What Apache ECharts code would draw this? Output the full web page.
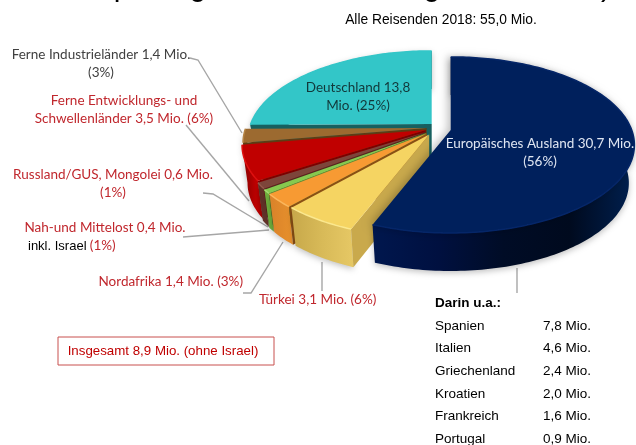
<!DOCTYPE html>
<html>
<head>
<meta charset="utf-8">
<title>Reisen</title>
<script src="https://cdn.jsdelivr.net/npm/echarts@6/dist/echarts.min.js"></script>
<style>
  html, body { margin: 0; padding: 0; background: #fff; }
  #chart { width: 636px; height: 445px; }
</style>
</head>
<body>
<div id="chart"></div>
<script>
// data, clockwise from 12 o'clock
const regions = ['Europäisches Ausland', 'Türkei', 'Nordafrika', 'Nah-und Mittelost', 'Russland/GUS, Mongolei', 'Ferne Entwicklungs- und Schwellenländer', 'Ferne Industrieländer', 'Deutschland'];
const millions = [30.7, 3.1, 1.4, 0.4, 0.6, 3.5, 1.4, 13.8];
const subtitle = 'Alle Reisenden 2018: 55,0 Mio.';
const totalNote = 'Insgesamt 8,9 Mio. (ohne Israel)';
const darinHeading = 'Darin u.a.:';
const darinCountries = ['Spanien', 'Italien', 'Griechenland', 'Kroatien', 'Frankreich', 'Portugal'];
const darinValues = ['7,8 Mio.', '4,6 Mio.', '2,4 Mio.', '2,0 Mio.', '1,6 Mio.', '0,9 Mio.'];

// slice styling, same order as regions
const topColors = ['#00205c', '#f5d462', '#f79a33', '#86c94f', '#7d453a', '#c00000', '#9c6a30', '#33c6c8'];
const rimColors = ['#052668', '#fbe88e', '#fbb65c', '#a4dc72', '#95594c', '#e01010', '#b58344', '#33c6c8'];
const faceColors = ['#00205c', '#c9a94c', '#8a4f14', '#5d8f33', '#4e2a22', '#7d0000', '#5e3c14', '#17605f'];
const wallStops = [
    ['#00174e', '#001040', '#000c26', '#000a1e', '#002050'],
    ['#e6c865', '#d8ba58', '#c7a84a'],
    ['#e8912c', '#d9822a'],
    ['#6fae3c', '#6fae3c'],
    ['#6a362c', '#5c2e25'],
    ['#b40000', '#c00000', '#a00000', '#8a0000'],
    ['#7a4f20', '#7a4f20'],
    ['#17605f', '#17605f']
];
const offsets = [[19, -3], [-2.5, 1.5], [-5, 0.5], [-5.5, 0], [-6, -1], [-6, -3], [-5, -5], [0, -9]];

// pie projection
const pie = { cx: 431.7, cy: 133, r: 181, a: 85.5, persp: 0.17, depth: 38, bottomScale: 0.97 };

const total = millions.reduce((s, v) => s + v, 0);
const startAngles = millions.map((v, i) => millions.slice(0, i).reduce((s, x) => s + x, 0) / total * Math.PI * 2);

function project(theta, index, bottom) {
    const v = -Math.cos(theta);
    const w = 1 - pie.persp * v;
    const k = bottom ? pie.bottomScale : 1;
    return [
        pie.cx + offsets[index][0] + k * pie.r * Math.sin(theta) / w,
        pie.cy + offsets[index][1] + pie.a * v / w + (bottom ? pie.depth : 0)
    ];
}

function rim(from, to, index, bottom) {
    const steps = Math.max(2, Math.ceil((to - from) / 0.02));
    const pts = [];
    for (let i = 0; i <= steps; i++) {
        pts.push(project(from + (to - from) * i / steps, index, bottom));
    }
    return pts;
}

function apex(index, bottom) {
    const k = bottom ? pie.depth : 0;
    return [pie.cx + offsets[index][0], pie.cy + offsets[index][1] + k];
}

function renderSlice(params, api) {
    const index = api.value(1);
    const from = startAngles[index];
    const to = from + api.value(0) / total * Math.PI * 2;
    const topRim = rim(from, to, index, false);
    const bottomRim = rim(from, to, index, true);
    const stops = wallStops[index].map((c, i, arr) => ({ offset: i / (arr.length - 1), color: c }));
    return {
        type: 'group',
        children: [
            {
                type: 'polygon',
                shape: { points: topRim.concat(bottomRim.slice().reverse()) },
                style: {
                    fill: new echarts.graphic.LinearGradient(index === 0 ? 0 : 1, 0, index === 0 ? 1 : 0, 0, stops),
                    shadowBlur: 6,
                    shadowColor: 'rgba(0,0,0,0.25)',
                    shadowOffsetY: 2
                }
            },
            {
                type: 'polygon',
                shape: { points: [apex(index, false), topRim[0], bottomRim[0], apex(index, true)] },
                style: { fill: faceColors[index] }
            },
            {
                type: 'polygon',
                shape: { points: [apex(index, false)].concat(topRim) },
                style: {
                    fill: topColors[index],
                    shadowBlur: index === 0 ? 8 : 0,
                    shadowOffsetX: index === 0 ? -3 : 0,
                    shadowColor: 'rgba(0,0,0,0.25)'
                }
            },
            {
                type: 'polyline',
                shape: { points: topRim },
                style: { fill: 'none', stroke: rimColors[index], lineWidth: 1.5 }
            }
        ]
    };
}

// back slices first, navy on top
const sliceData = millions.map((v, i) => [v, i]).reverse();

const LABEL_FONT = 'Lato';
const ARIAL = '"Liberation Sans"';
const RED = '#c0272d';

function label(text, x, y, color, align, font, size, weight) {
    return {
        type: 'text',
        x: x,
        y: y,
        silent: true,
        style: {
            text: text,
            fill: color,
            font: (weight ? weight + ' ' : '') + (size || 13.5) + 'px ' + (font || LABEL_FONT),
            align: align || 'center',
            verticalAlign: 'middle',
            lineHeight: 18
        }
    };
}

function leader(points) {
    return {
        type: 'polyline',
        shape: { points: points },
        silent: true,
        style: { fill: 'none', stroke: '#a6a6a6', lineWidth: 1.4 }
    };
}

const elements = [
    // title is cut off at the top edge, only descenders show
    label('p', 122, -12, '#000', 'center', ARIAL, 30),
    label('g', 198, -12, '#000', 'center', ARIAL, 30),
    label('g', 432, -12, '#000', 'center', ARIAL, 30),
    label(')', 606, -12, '#000', 'center', ARIAL, 30),

    label(subtitle, 441, 20, '#000', 'center', ARIAL, 13.8),

    leader([[190, 58], [198, 60], [242, 133]]),
    leader([[186, 125], [249, 201]]),
    leader([[203, 193], [213, 194], [268, 227]]),
    leader([[183, 237], [269, 230]]),
    leader([[243, 293], [251, 293], [283, 242]]),
    leader([[322, 262], [322, 291]]),
    leader([[517, 268], [517, 293]]),

    label('Ferne Industrieländer 1,4 Mio.\n(3%)', 101, 64, '#404040'),
    label('Ferne Entwicklungs- und\nSchwellenländer 3,5 Mio. (6%)', 124, 110, RED),
    label('Russland/GUS, Mongolei 0,6 Mio.\n(1%)', 113, 184, RED),
    label('Nah-und Mittelost 0,4 Mio.', 105, 228, RED),
    {
        type: 'text',
        x: 28,
        y: 246,
        silent: true,
        style: {
            text: '{a|inkl. Israel} {b|(1%)}',
            verticalAlign: 'middle',
            rich: {
                a: { font: '13px ' + ARIAL, fill: '#000' },
                b: { font: '13.5px ' + LABEL_FONT, fill: RED }
            }
        }
    },
    label('Nordafrika 1,4 Mio. (3%)', 243, 282, RED, 'right'),
    label('Türkei 3,1 Mio. (6%)', 259, 300, RED, 'left'),

    {
        type: 'rect',
        shape: { x: 58, y: 337, width: 216, height: 28 },
        silent: true,
        style: { fill: '#fff', stroke: '#c8504f', lineWidth: 1 }
    },
    label(totalNote, 163, 351, '#c00000', 'center', ARIAL, 13.3),

    label(darinHeading, 435, 303, '#000', 'left', ARIAL, 13.5, 'bold')
];

darinCountries.forEach(function (name, i) {
    const y = 326 + i * 22.6;
    elements.push(label(name, 435, y, '#000', 'left', ARIAL, 13.5));
    elements.push(label(darinValues[i], 543, y, '#000', 'left', ARIAL, 13.5));
});

// labels on the slices sit above the custom series
const onPie = [
    label('Deutschland 13,8\nMio. (25%)', 358, 97, '#12383a'),
    label('Europäisches Ausland 30,7 Mio.\n(56%)', 540, 153, '#dfe6f2')
];
onPie.forEach(e => { e.z = 10; });

const chart = echarts.init(document.getElementById('chart'), null, { renderer: 'canvas' });

chart.setOption({
    animation: false,
    backgroundColor: '#fff',
    graphic: { elements: elements.concat(onPie) },
    series: [
        {
            type: 'custom',
            coordinateSystem: 'none',
            renderItem: renderSlice,
            silent: true,
            z: 5,
            data: sliceData
        }
    ]
});
</script>
</body>
</html>
